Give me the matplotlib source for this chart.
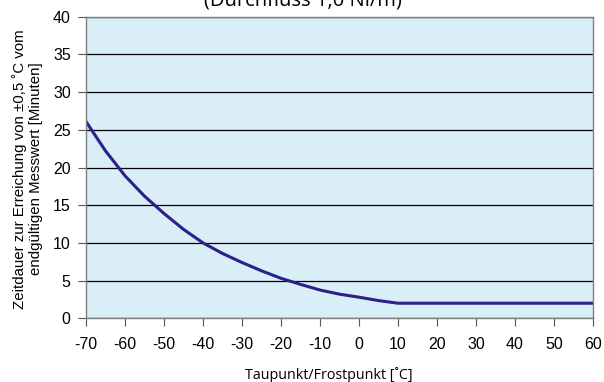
import matplotlib.pyplot as plt

plt.rcParams['axes.unicode_minus'] = False

# dew/frost point [deg C] and settling time [min]
temps = [-70, -65, -60, -55, -50, -45, -40, -35, -30, -25, -20, -15, -10, -5, 0, 5, 10, 20, 30, 40, 50, 60]
minutes = [26.1, 22.2, 18.9, 16.2, 13.9, 11.8, 10.0, 8.6, 7.4, 6.3, 5.3, 4.5, 3.75, 3.2, 2.8, 2.35, 2.0,
           2.0, 2.0, 2.0, 2.0, 2.0]

x_ticks = list(range(-70, 61, 10))
y_ticks = list(range(0, 41, 5))

W, H = 604, 382
fig = plt.figure(figsize=(W / 100, H / 100), dpi=100)
ax = fig.add_axes([86 / W, 1 - 318.3 / H, 507 / W, 301.6 / H])

ax.set_facecolor('#d9eef6')
ax.plot(temps, minutes, color='#2e1f8a', lw=2.2, solid_joinstyle='round')

ax.set_xlim(-70, 60)
ax.set_ylim(0, 40)
ax.set_xticks(x_ticks)
ax.set_yticks(y_ticks)
ax.grid(axis='y', color='black', lw=0.9)
ax.set_axisbelow(True)

for s in ax.spines.values():
    s.set_color('#808080')
    s.set_linewidth(1)

ax.tick_params(direction='out', length=5.5, width=0.8, color='#555555', labelsize=11.5)
ax.tick_params(axis='x', pad=8)
ax.tick_params(axis='y', pad=5.5)
for lbl in ax.get_xticklabels() + ax.get_yticklabels():
    lbl.set_family('Liberation Sans')

ax.set_ylabel('Zeitdauer zur Erreichung von ±0,5 ˚C vom\nendgültigen Messwert [Minuten]',
              family='Liberation Sans', fontsize=10.8, linespacing=1.2)
ax.yaxis.set_label_coords(-0.085, 0.495)

fig.text(329 / W, 1 - 375 / H, 'Taupunkt/Frostpunkt [˚C]', family='Open Sans',
         fontsize=10.3, ha='center', va='center')

fig.text(303 / W, 1 - 5.5 / H, '(Durchfluss 1,0 Nl/m)', family='Open Sans',
         fontsize=14.5, ha='center', va='baseline')

fig.savefig('out.png', dpi=100)
